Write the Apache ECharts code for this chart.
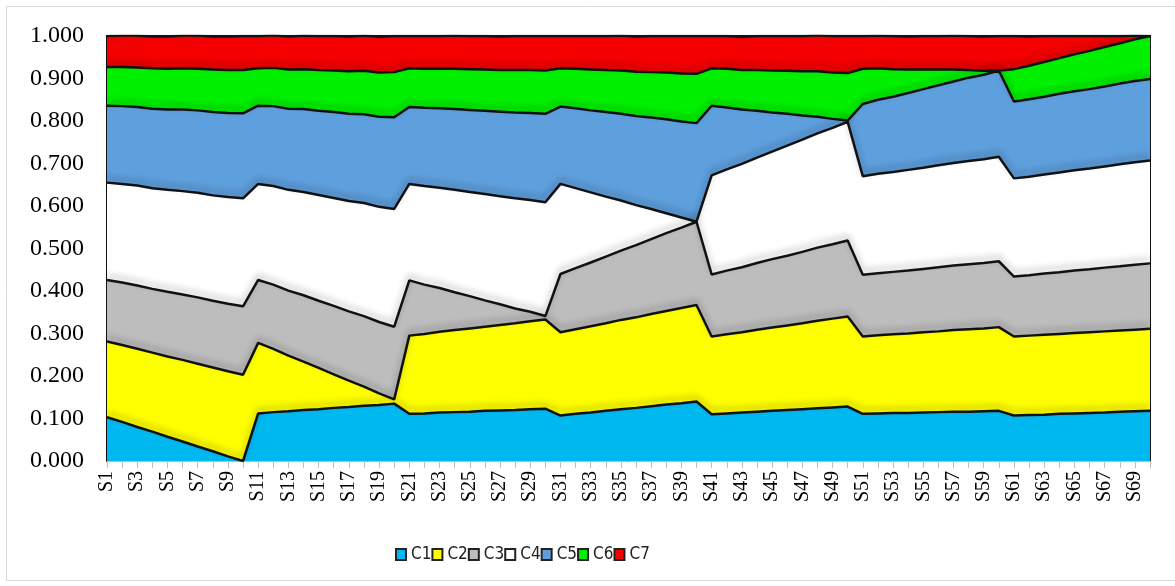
<!DOCTYPE html>
<html>
<head>
<meta charset="utf-8">
<title>C1–C7 stacked share</title>
<script src="https://cdn.jsdelivr.net/npm/echarts@6/dist/echarts.min.js"></script>
<style>
  html, body { margin: 0; padding: 0; background: #ffffff; }
  #chart { width: 1175px; height: 586px; }
</style>
</head>
<body>
<div id="chart"></div>
<script>
// Categories S1 … S70
const categories = Array.from({ length: 70 }, (_, i) => 'S' + (i + 1));

const seriesNames = ['C1', 'C2', 'C3', 'C4', 'C5', 'C6', 'C7'];

// Share of each component per sample (groups of ten: S1–S10, S11–S20, …)
const c1 = [
  0.103, 0.092, 0.080, 0.069, 0.057, 0.046, 0.034, 0.023, 0.011, 0.000,
  0.112, 0.115, 0.117, 0.120, 0.122, 0.125, 0.127, 0.130, 0.132, 0.135,
  0.111, 0.112, 0.114, 0.115, 0.116, 0.118, 0.119, 0.120, 0.122, 0.123,
  0.107, 0.111, 0.114, 0.118, 0.122, 0.125, 0.129, 0.133, 0.136, 0.140,
  0.110, 0.112, 0.114, 0.116, 0.118, 0.120, 0.122, 0.124, 0.126, 0.128,
  0.111, 0.112, 0.113, 0.113, 0.114, 0.115, 0.116, 0.116, 0.117, 0.118,
  0.107, 0.108, 0.109, 0.111, 0.112, 0.113, 0.114, 0.116, 0.117, 0.118
];
const c2 = [
  0.178, 0.181, 0.184, 0.186, 0.189, 0.192, 0.195, 0.197, 0.200, 0.203,
  0.166, 0.149, 0.131, 0.114, 0.097, 0.079, 0.062, 0.045, 0.027, 0.010,
  0.184, 0.187, 0.190, 0.193, 0.196, 0.198, 0.201, 0.204, 0.207, 0.210,
  0.196, 0.199, 0.203, 0.206, 0.210, 0.213, 0.217, 0.220, 0.224, 0.227,
  0.183, 0.186, 0.189, 0.193, 0.196, 0.199, 0.202, 0.206, 0.209, 0.212,
  0.182, 0.184, 0.185, 0.187, 0.189, 0.190, 0.192, 0.194, 0.195, 0.197,
  0.186, 0.187, 0.188, 0.188, 0.189, 0.190, 0.191, 0.191, 0.192, 0.193
];
const c3 = [
  0.145, 0.147, 0.149, 0.150, 0.152, 0.154, 0.156, 0.157, 0.159, 0.161,
  0.148, 0.151, 0.153, 0.156, 0.158, 0.161, 0.163, 0.166, 0.168, 0.171,
  0.130, 0.116, 0.103, 0.089, 0.076, 0.062, 0.049, 0.035, 0.022, 0.008,
  0.137, 0.144, 0.150, 0.157, 0.163, 0.170, 0.176, 0.183, 0.189, 0.196,
  0.146, 0.150, 0.153, 0.157, 0.161, 0.164, 0.168, 0.172, 0.175, 0.179,
  0.145, 0.146, 0.147, 0.148, 0.149, 0.151, 0.152, 0.153, 0.154, 0.155,
  0.141, 0.142, 0.144, 0.145, 0.147, 0.148, 0.150, 0.151, 0.153, 0.154
];
const c4 = [
  0.229, 0.232, 0.235, 0.237, 0.240, 0.243, 0.246, 0.248, 0.251, 0.254,
  0.226, 0.232, 0.237, 0.243, 0.249, 0.254, 0.260, 0.266, 0.271, 0.277,
  0.227, 0.232, 0.236, 0.241, 0.245, 0.250, 0.254, 0.259, 0.263, 0.268,
  0.212, 0.188, 0.165, 0.141, 0.118, 0.094, 0.071, 0.047, 0.024, 0.000,
  0.233, 0.238, 0.243, 0.248, 0.253, 0.259, 0.264, 0.269, 0.274, 0.279,
  0.232, 0.234, 0.235, 0.237, 0.238, 0.240, 0.241, 0.243, 0.244, 0.246,
  0.231, 0.232, 0.233, 0.235, 0.236, 0.237, 0.238, 0.240, 0.241, 0.242
];
const c5 = [
  0.181, 0.183, 0.185, 0.187, 0.189, 0.192, 0.194, 0.196, 0.198, 0.200,
  0.184, 0.188, 0.191, 0.195, 0.198, 0.202, 0.205, 0.209, 0.212, 0.216,
  0.181, 0.184, 0.187, 0.190, 0.193, 0.196, 0.199, 0.202, 0.205, 0.208,
  0.182, 0.188, 0.193, 0.199, 0.204, 0.210, 0.215, 0.221, 0.226, 0.232,
  0.164, 0.146, 0.128, 0.110, 0.092, 0.075, 0.057, 0.039, 0.021, 0.003,
  0.170, 0.174, 0.177, 0.181, 0.185, 0.188, 0.192, 0.196, 0.199, 0.203,
  0.181, 0.182, 0.183, 0.185, 0.186, 0.187, 0.188, 0.190, 0.191, 0.192
];
const c6 = [
  0.091, 0.092, 0.093, 0.095, 0.096, 0.097, 0.098, 0.100, 0.101, 0.102,
  0.088, 0.090, 0.092, 0.094, 0.096, 0.098, 0.100, 0.102, 0.104, 0.106,
  0.091, 0.092, 0.093, 0.095, 0.096, 0.097, 0.098, 0.100, 0.101, 0.102,
  0.090, 0.093, 0.096, 0.099, 0.102, 0.104, 0.107, 0.110, 0.113, 0.116,
  0.088, 0.091, 0.093, 0.096, 0.099, 0.101, 0.104, 0.107, 0.109, 0.112,
  0.083, 0.074, 0.065, 0.055, 0.046, 0.037, 0.028, 0.018, 0.009, 0.000,
  0.076, 0.079, 0.082, 0.084, 0.087, 0.090, 0.093, 0.095, 0.098, 0.101
];
const c7 = [
  0.073, 0.074, 0.075, 0.075, 0.076, 0.077, 0.078, 0.078, 0.079, 0.080,
  0.076, 0.077, 0.078, 0.079, 0.080, 0.081, 0.082, 0.083, 0.084, 0.085,
  0.076, 0.077, 0.077, 0.078, 0.078, 0.079, 0.079, 0.080, 0.080, 0.081,
  0.076, 0.077, 0.079, 0.080, 0.082, 0.083, 0.085, 0.086, 0.088, 0.089,
  0.076, 0.077, 0.078, 0.080, 0.081, 0.082, 0.083, 0.085, 0.086, 0.087,
  0.077, 0.077, 0.078, 0.078, 0.079, 0.079, 0.080, 0.080, 0.081, 0.081,
  0.078, 0.069, 0.061, 0.052, 0.043, 0.035, 0.026, 0.017, 0.009, 0.000
];

const yTicks = [0, 0.1, 0.2, 0.3, 0.4, 0.5, 0.6, 0.7, 0.8, 0.9, 1.0];

const colors = ['#00B8F0', '#FFFF00', '#BDBDBD', '#FFFFFF', '#5E9FDD', '#00F000', '#F40000'];
const values = [c1, c2, c3, c4, c5, c6, c7];

const chart = echarts.init(document.getElementById('chart'), null, { renderer: 'canvas' });

// Filled bands
const areaSeries = seriesNames.map((name, i) => ({
  name: name,
  type: 'line',
  stack: 'share',
  data: values[i],
  symbol: 'none',
  z: 2,
  lineStyle: { width: 0, opacity: 0 },
  areaStyle: { color: colors[i], opacity: 1 },
  itemStyle: { color: colors[i], borderColor: '#222222', borderWidth: 1.5 },
  emphasis: { disabled: true }
}));

// Dark outlines along the top of each band, with a soft shade above them
// so every band reads as a raised slab
const edgeSeries = seriesNames.map((name, i) => ({
  name: name + ' edge',
  type: 'line',
  stack: 'edge',
  data: values[i],
  symbol: 'none',
  z: 3,
  silent: true,
  lineStyle: {
    color: '#111111', width: 2.5,
    shadowColor: 'rgba(0,0,0,0.30)', shadowBlur: 6, shadowOffsetY: -4
  },
  emphasis: { disabled: true }
}));

chart.setOption({
  animation: false,
  backgroundColor: '#ffffff',
  color: colors,
  graphic: [{
    type: 'rect',
    shape: { x: 6.5, y: 6.5, width: 1180, height: 574 },
    style: { fill: 'none', stroke: '#d9d9d9', lineWidth: 1 },
    silent: true,
    z: -10
  }],
  grid: {
    left: 107, right: 25, top: 36, bottom: 125,
    show: true, borderColor: '#111111', borderWidth: 2,
    backgroundColor: 'transparent'
  },
  legend: {
    data: seriesNames,
    left: 390, top: 541,
    icon: 'rect',
    itemWidth: 10, itemHeight: 11, itemGap: 0,
    textStyle: {
      fontFamily: '"Liberation Sans Narrow", "DejaVu Sans Condensed", sans-serif',
      fontSize: 17, color: '#222222'
    }
  },
  xAxis: {
    type: 'category',
    data: categories,
    boundaryGap: false,
    axisLine: { show: true, lineStyle: { color: '#bfbfbf', width: 1 } },
    axisTick: { show: true, interval: 0, length: 7, lineStyle: { color: '#bfbfbf' } },
    axisLabel: {
      interval: 1, rotate: 90, margin: 10,
      fontFamily: '"Liberation Serif", "Times New Roman", serif',
      fontSize: 20, color: '#000000'
    },
    splitLine: { show: false }
  },
  yAxis: {
    type: 'value',
    min: yTicks[0], max: yTicks[yTicks.length - 1], interval: 0.1,
    axisLine: { show: false },
    axisTick: { show: false },
    splitLine: { show: false },
    axisLabel: {
      margin: 23,
      fontFamily: '"Liberation Serif", "Times New Roman", serif',
      fontSize: 24, color: '#000000',
      formatter: v => v.toFixed(3)
    }
  },
  series: areaSeries.concat(edgeSeries)
});
</script>
</body>
</html>
